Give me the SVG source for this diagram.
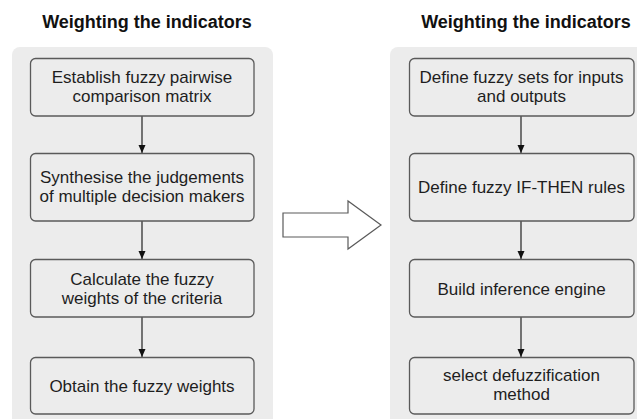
<svg xmlns="http://www.w3.org/2000/svg" width="637" height="419" viewBox="0 0 637 419">
<defs>
<style>
.panel{fill:#ececec}
.box{fill:#ececec;stroke:#5a5a5a;stroke-width:1.3}
.t{font-family:"Liberation Sans",Arial,sans-serif;font-size:17px;fill:#1e1e1e;text-anchor:middle}
.title{font-family:"Liberation Sans",Arial,sans-serif;font-size:18px;font-weight:bold;fill:#111;text-anchor:middle}
.conn{stroke:#222;stroke-width:1.2;fill:none}
</style>
<marker id="ah" viewBox="0 0 8 8" refX="8" refY="4" markerWidth="8" markerHeight="8" markerUnits="userSpaceOnUse" orient="auto">
<path d="M0,0.5 L8,4 L0,7.5 Z" fill="#111"/>
</marker>
</defs>
<rect width="637" height="419" fill="#ffffff"/>
<text class="title" x="147" y="28">Weighting the indicators</text>
<text class="title" x="526" y="28">Weighting the indicators</text>
<rect class="panel" x="12" y="47" width="261" height="380" rx="8"/>
<rect class="panel" x="390" y="47" width="260" height="380" rx="8"/>
<g id="arrow-big"><path d="M283,213 L348,213 L348,201 L381,225 L348,249 L348,237 L283,237 Z" fill="#ffffff" stroke="#5a5a5a" stroke-width="1.2"/></g>
<g id="connectors">
<line class="conn" x1="142" y1="116" x2="142" y2="153" marker-end="url(#ah)"/>
<line class="conn" x1="142" y1="221" x2="142" y2="259" marker-end="url(#ah)"/>
<line class="conn" x1="142" y1="317" x2="142" y2="357" marker-end="url(#ah)"/>
<line class="conn" x1="521" y1="116" x2="521" y2="153" marker-end="url(#ah)"/>
<line class="conn" x1="521" y1="221" x2="521" y2="259" marker-end="url(#ah)"/>
<line class="conn" x1="521" y1="317" x2="521" y2="357" marker-end="url(#ah)"/>
</g>
<g id="L1"><rect class="box" x="30.5" y="58.5" width="223.5" height="57.5" rx="5"/><text class="t" x="142" y="83">Establish fuzzy pairwise</text><text class="t" x="142" y="102">comparison matrix</text></g>
<g id="L2"><rect class="box" x="30.5" y="153.5" width="223.5" height="67.5" rx="5"/><text class="t" x="142" y="183">Synthesise the judgements</text><text class="t" x="142" y="202">of multiple decision makers</text></g>
<g id="L3"><rect class="box" x="30.5" y="259.5" width="223.5" height="57.5" rx="5"/><text class="t" x="142" y="285">Calculate the fuzzy</text><text class="t" x="142" y="304">weights of the criteria</text></g>
<g id="L4"><rect class="box" x="30.5" y="357.5" width="223.5" height="56.5" rx="5"/><text class="t" x="142" y="392">Obtain the fuzzy weights</text></g>
<g id="R1"><rect class="box" x="409.5" y="58.5" width="224.5" height="57.5" rx="5"/><text class="t" x="521.5" y="83">Define fuzzy sets for inputs</text><text class="t" x="521.5" y="102">and outputs</text></g>
<g id="R2"><rect class="box" x="409.5" y="153.5" width="224.5" height="67.5" rx="5"/><text class="t" x="521.5" y="193">Define fuzzy IF-THEN rules</text></g>
<g id="R3"><rect class="box" x="409.5" y="259.5" width="224.5" height="57.5" rx="5"/><text class="t" x="521.5" y="295">Build inference engine</text></g>
<g id="R4"><rect class="box" x="409.5" y="357.5" width="224.5" height="56.5" rx="5"/><text class="t" x="521.5" y="381">select defuzzification</text><text class="t" x="521.5" y="400">method</text></g>
</svg>
